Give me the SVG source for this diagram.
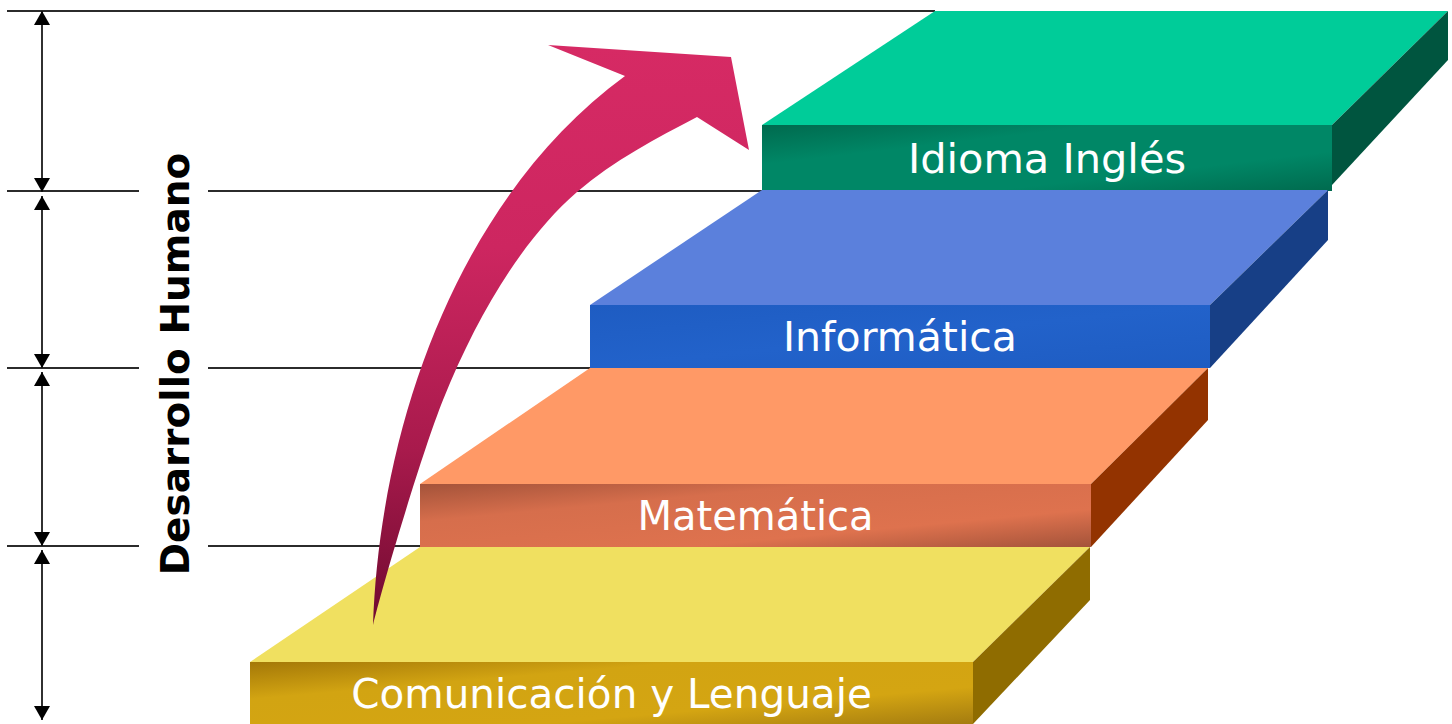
<svg xmlns="http://www.w3.org/2000/svg" width="1452" height="724" viewBox="0 0 1452 724">
<style>
.guide{stroke:#2b2b2b;stroke-width:2;fill:none}
.dim{stroke:#1a1a1a;stroke-width:1.8;fill:none;marker-start:url(#ah);marker-end:url(#ah)}
.lbl{font-family:"DejaVu Sans","Verdana",sans-serif;font-size:40px;fill:#fff;text-anchor:middle}
.title{font-family:"DejaVu Sans","Verdana",sans-serif;font-weight:bold;font-size:39px;fill:#000;text-anchor:middle}
</style>
<defs>
<marker id="ah" viewBox="0 0 14 16" refX="14" refY="8" markerWidth="14" markerHeight="16" markerUnits="userSpaceOnUse" orient="auto-start-reverse">
<path d="M0,0 L14,8 L0,16 Z" fill="#000"/>
</marker>
<linearGradient id="gArrow" gradientUnits="userSpaceOnUse" x1="0" y1="45" x2="0" y2="625">
<stop offset="0" stop-color="#D62A64"/>
<stop offset="0.35" stop-color="#CD2660"/>
<stop offset="0.7" stop-color="#A81A4C"/>
<stop offset="1" stop-color="#700A30"/>
</linearGradient>
<linearGradient id="gGreen" x1="0" y1="0" x2="1" y2="1">
<stop offset="0" stop-color="#006A4E"/>
<stop offset="0.3" stop-color="#008766"/>
<stop offset="0.7" stop-color="#008766"/>
<stop offset="1" stop-color="#006A4E"/>
</linearGradient>
<linearGradient id="gBlue" x1="0" y1="0" x2="1" y2="1">
<stop offset="0" stop-color="#1E5CC2"/>
<stop offset="0.5" stop-color="#2262CA"/>
<stop offset="1" stop-color="#1E5CC2"/>
</linearGradient>
<linearGradient id="gOrange" x1="0" y1="0" x2="1" y2="1">
<stop offset="0" stop-color="#A4533A"/>
<stop offset="0.3" stop-color="#D66E4C"/>
<stop offset="0.7" stop-color="#DE724E"/>
<stop offset="1" stop-color="#A4533A"/>
</linearGradient>
<linearGradient id="gYellow" x1="0" y1="0" x2="1" y2="1">
<stop offset="0" stop-color="#A47808"/>
<stop offset="0.3" stop-color="#D2A412"/>
<stop offset="0.7" stop-color="#D4A512"/>
<stop offset="1" stop-color="#A47C10"/>
</linearGradient>
</defs>
<rect width="1452" height="724" fill="#fff"/>
<g id="connectors">
<line class="guide" x1="7" y1="11" x2="935" y2="11"/>
<line class="guide" x1="7" y1="191" x2="139" y2="191"/>
<line class="guide" x1="208" y1="191" x2="762" y2="191"/>
<line class="guide" x1="7" y1="368" x2="139" y2="368"/>
<line class="guide" x1="208" y1="368" x2="590" y2="368"/>
<line class="guide" x1="7" y1="546" x2="139" y2="546"/>
<line class="guide" x1="208" y1="546" x2="420" y2="546"/>
<line class="dim" x1="42" y1="11" x2="42" y2="192"/>
<line class="dim" x1="42" y1="196" x2="42" y2="368"/>
<line class="dim" x1="42" y1="372" x2="42" y2="546"/>
<line class="dim" x1="42" y1="550" x2="42" y2="720"/>
</g>
<g id="title">
<text class="title" transform="translate(189,364) rotate(-90)" x="0" y="0">Desarrollo Humano</text>
</g>
<g id="step-ingles">
<polygon points="762,125 1332,125 1448,11 935,11" fill="#00CC99"/>
<polygon points="1332,125 1448,11 1448,60 1332,185" fill="#00553F"/>
<rect x="762" y="125" width="570" height="66" fill="url(#gGreen)"/>
<text class="lbl" x="1047" y="173" style="font-size:41.5px">Idioma Inglés</text>
</g>
<g id="step-informatica">
<polygon points="590,305 1210,305 1328,190 762,190" fill="#5B80DC"/>
<polygon points="1210,305 1328,190 1328,240 1210,368" fill="#173F86"/>
<rect x="590" y="305" width="620" height="63" fill="url(#gBlue)"/>
<text class="lbl" x="900" y="351" style="font-size:41px">Informática</text>
</g>
<g id="step-matematica">
<polygon points="420,484 1091,484 1208,368 590,368" fill="#FF9966"/>
<polygon points="1091,484 1208,368 1208,420 1091,547" fill="#933300"/>
<rect x="420" y="484" width="671" height="63" fill="url(#gOrange)"/>
<text class="lbl" x="755.5" y="530">Matemática</text>
</g>
<g id="step-comunicacion">
<polygon points="250,662 973,662 1090,547 420,547" fill="#F0E060"/>
<polygon points="973,662 1090,547 1090,600 973,724" fill="#8F6C00"/>
<rect x="250" y="662" width="723" height="62" fill="url(#gYellow)"/>
<text class="lbl" x="611.5" y="708" style="font-size:40.5px">Comunicación y Lenguaje</text>
</g>
<g id="arrow">
<path d="M373,625 C380,420 462,195 625,76 L548,45 L731,57 L749,150 L697,117 C657,138 614,160 577,192 C524,238 478,313 443,400 C423,450 386,573 373,625 Z" fill="url(#gArrow)"/>
</g>
</svg>
